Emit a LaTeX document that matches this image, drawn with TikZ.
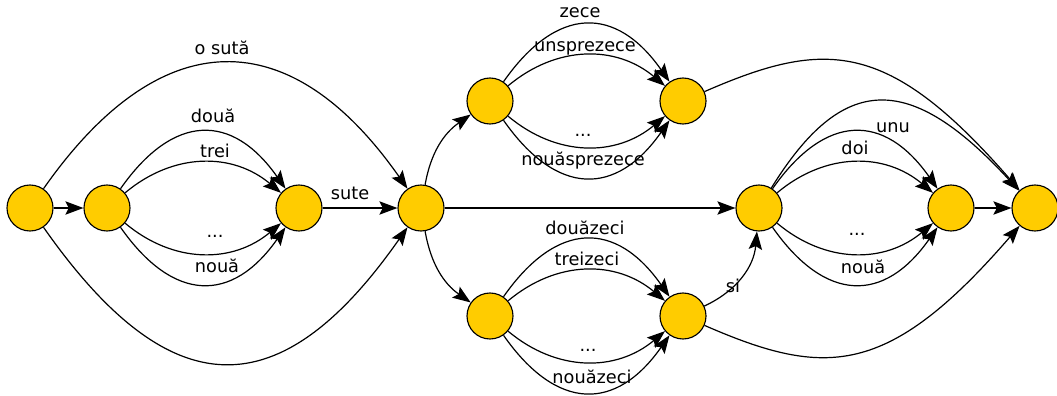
\documentclass[tikz,border=0pt]{standalone}
\usepackage{fontspec}
\setmainfont{DejaVu Sans}
\usetikzlibrary{arrows.meta}
\definecolor{stare}{RGB}{255,204,0}

\begin{document}
\begin{tikzpicture}[x=0.75pt, y=-0.75pt,
        st/.style={circle, draw, fill=stare, minimum size=34.5pt, inner sep=0pt, line width=0.85pt},
        tr/.style={-{Stealth[length=13.5pt, width=10pt, inset=2.5pt]}, line width=0.9pt},
        et/.style={anchor=base, inner sep=0pt, font=\fontsize{13.3}{16}\selectfont},
        sus1/.style={out=55, in=125, looseness=1.44},
        sus2/.style={out=40, in=140, looseness=1.04},
        jos1/.style={out=-40, in=-140, looseness=1.04},
        jos2/.style={out=-55, in=-125, looseness=1.44}]
            \useasboundingbox (0,0) rectangle (1057,396);
            % stari
            \node[st] (q0) at (30,208) {};
            \node[st] (q1) at (107,208) {};
            \node[st] (q2) at (299,208) {};
            \node[st] (q3) at (421,208) {};
            \node[st] (q4) at (490,101) {};
            \node[st] (q5) at (683,101) {};
            \node[st] (q6) at (490,316) {};
            \node[st] (q7) at (683,316) {};
            \node[st] (q8) at (759,208) {};
            \node[st] (q9) at (951,208) {};
            \node[st] (q10) at (1035,208) {};
            % tranzitii
            \draw[tr] (q0) -- (q1);
            \draw[tr] (q0) to[out=55, in=125, looseness=1.44] (q3);
            \draw[tr] (q0) to[out=-55, in=-125, looseness=1.56] (q3);
            \foreach \a/\b in {q1/q2, q4/q5, q6/q7, q8/q9} {
                \draw[tr] (\a) to[sus1] (\b);
                \draw[tr] (\a) to[sus2] (\b);
                \draw[tr] (\a) to[jos1] (\b);
                \draw[tr] (\a) to[jos2] (\b);
            }
            \draw[tr] (q2) -- (q3);
            \draw[tr] (q3) -- (q8);
            \draw[tr] (q9) -- (q10);
            \draw[tr] (q3) to[out=80, in=215] (q4);
            \draw[tr] (q3) to[out=-80, in=145] (q6);
            \draw[tr] (q7) to[out=25, in=-95] (q8);
            \draw[tr] (q5) .. controls (825,39) and (888,39) .. (q10);
            \draw[tr] (q7) .. controls (825,378) and (888,378) .. (q10);
            \draw[tr] (q8) .. controls (843,72) and (910,72) .. (q10);
            % etichete
            \node[et] (e-osuta) at (222,54) {o sută};
            \node[et] (e-doua) at (213,122) {două};
            \node[et] (e-trei) at (215,157) {trei};
            \node[et] (e-p1) at (215,237) {...};
            \node[et] (e-noua1) at (217,272) {nouă};
            \node[et] (e-sute) at (350,199) {sute};
            \node[et] (e-zece) at (580,17) {zece};
            \node[et] (e-unspr) at (585,51) {unsprezece};
            \node[et] (e-p2) at (583,136) {...};
            \node[et] (e-nouaspr) at (583,165) {nouăsprezece};
            \node[et] (e-douazeci) at (585,234) {douăzeci};
            \node[et] (e-treizeci) at (587,265) {treizeci};
            \node[et] (e-p3) at (588,351) {...};
            \node[et] (e-nouazeci) at (592,383) {nouăzeci};
            \node[et] (e-si) at (733,292) {si};
            \node[et] (e-unu) at (893,132) {unu};
            \node[et] (e-doi) at (855,154) {doi};
            \node[et] (e-p4) at (857,235) {...};
            \node[et] (e-noua2) at (863,273) {nouă};
        \end{tikzpicture}
\end{document}
